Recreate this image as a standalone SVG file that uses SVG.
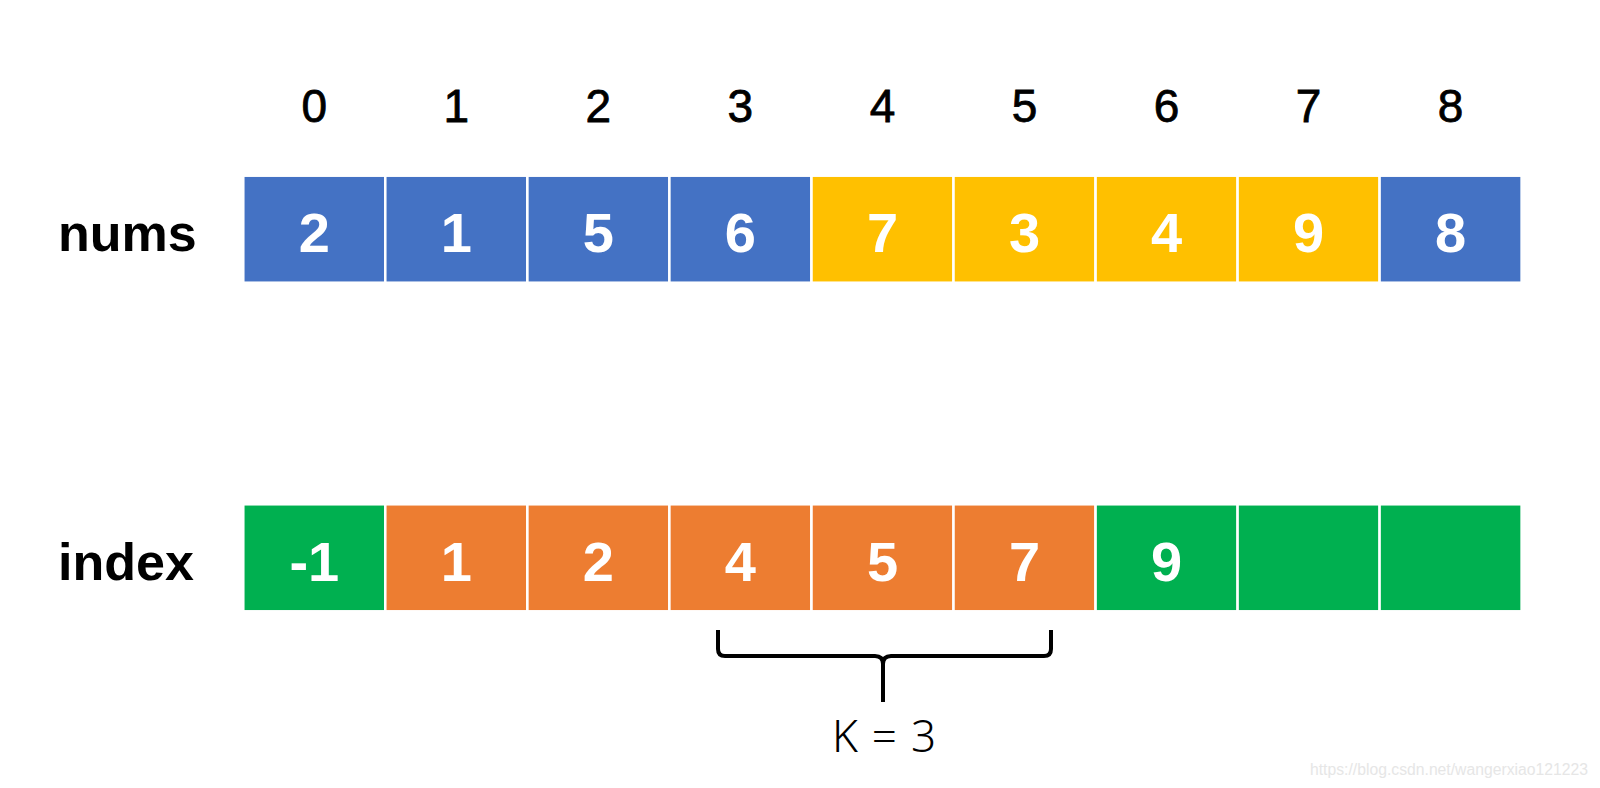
<svg xmlns="http://www.w3.org/2000/svg" width="1600" height="788" viewBox="0 0 1600 788">
<style>
.cell{stroke:#fff;stroke-width:2.5}
.b{fill:#4472C4}.y{fill:#FFC000}.g{fill:#00B050}.o{fill:#ED7D31}
.v{font-family:"Liberation Sans",Arial,sans-serif;font-weight:bold;font-size:56px;fill:#fff;text-anchor:middle}
.h{font-family:"Liberation Sans",Arial,sans-serif;font-size:46px;fill:#000;stroke:#000;stroke-width:0.8;text-anchor:middle}
.lab{font-family:"Liberation Sans",Arial,sans-serif;font-weight:bold;font-size:52px;fill:#000}
.k{font-family:"Noto Sans","Liberation Sans",sans-serif;font-weight:300;font-size:44px;fill:#000;text-anchor:middle}
.wm{font-family:"Liberation Sans",Arial,sans-serif;font-size:16px;fill:#e6e6e6}
</style>
<rect width="1600" height="788" fill="#fff"/>
<g id="headers">
<text class="h" x="314.3" y="122">0</text>
<text class="h" x="456.3" y="122">1</text>
<text class="h" x="598.4" y="122">2</text>
<text class="h" x="740.4" y="122">3</text>
<text class="h" x="882.5" y="122">4</text>
<text class="h" x="1024.5" y="122">5</text>
<text class="h" x="1166.6" y="122">6</text>
<text class="h" x="1308.6" y="122">7</text>
<text class="h" x="1450.6" y="122">8</text>
</g>
<g id="labels">
<text class="lab" x="58" y="251">nums</text>
<text class="lab" x="58" y="580">index</text>
</g>
<g id="nums">
<g id="n0"><rect class="cell b" x="243.3" y="175.7" width="142" height="107"/><text class="v" x="314.3" y="252">2</text></g>
<g id="n1"><rect class="cell b" x="385.3" y="175.7" width="142" height="107"/><text class="v" x="456.3" y="252">1</text></g>
<g id="n2"><rect class="cell b" x="527.4" y="175.7" width="142" height="107"/><text class="v" x="598.4" y="252">5</text></g>
<g id="n3"><rect class="cell b" x="669.4" y="175.7" width="142" height="107"/><text class="v" x="740.4" y="252">6</text></g>
<g id="n4"><rect class="cell y" x="811.5" y="175.7" width="142" height="107"/><text class="v" x="882.5" y="252">7</text></g>
<g id="n5"><rect class="cell y" x="953.5" y="175.7" width="142" height="107"/><text class="v" x="1024.5" y="252">3</text></g>
<g id="n6"><rect class="cell y" x="1095.6" y="175.7" width="142" height="107"/><text class="v" x="1166.6" y="252">4</text></g>
<g id="n7"><rect class="cell y" x="1237.6" y="175.7" width="142" height="107"/><text class="v" x="1308.6" y="252">9</text></g>
<g id="n8"><rect class="cell b" x="1379.6" y="175.7" width="142" height="107"/><text class="v" x="1450.6" y="252">8</text></g>
</g>
<g id="index">
<g id="i0"><rect class="cell g" x="243.3" y="504.3" width="142" height="107"/><text class="v" x="314.3" y="580.5">-1</text></g>
<g id="i1"><rect class="cell o" x="385.3" y="504.3" width="142" height="107"/><text class="v" x="456.3" y="580.5">1</text></g>
<g id="i2"><rect class="cell o" x="527.4" y="504.3" width="142" height="107"/><text class="v" x="598.4" y="580.5">2</text></g>
<g id="i3"><rect class="cell o" x="669.4" y="504.3" width="142" height="107"/><text class="v" x="740.4" y="580.5">4</text></g>
<g id="i4"><rect class="cell o" x="811.5" y="504.3" width="142" height="107"/><text class="v" x="882.5" y="580.5">5</text></g>
<g id="i5"><rect class="cell o" x="953.5" y="504.3" width="142" height="107"/><text class="v" x="1024.5" y="580.5">7</text></g>
<g id="i6"><rect class="cell g" x="1095.6" y="504.3" width="142" height="107"/><text class="v" x="1166.6" y="580.5">9</text></g>
<g id="i7"><rect class="cell g" x="1237.6" y="504.3" width="142" height="107"/></g>
<g id="i8"><rect class="cell g" x="1379.6" y="504.3" width="142" height="107"/></g>
</g>
<g id="brace">
<path d="M718,630 L718,649 Q718,656 725,656 L875,656 Q883,656 883,664 L883,702 M883,664 Q883,656 891,656 L1044,656 Q1051,656 1051,649 L1051,630" fill="none" stroke="#000" stroke-width="4"/>
<text class="k" x="884" y="752" textLength="104" lengthAdjust="spacing">K = 3</text>
</g>
<text class="wm" x="1310" y="775" textLength="278" lengthAdjust="spacingAndGlyphs">https://blog.csdn.net/wangerxiao121223</text>
</svg>
